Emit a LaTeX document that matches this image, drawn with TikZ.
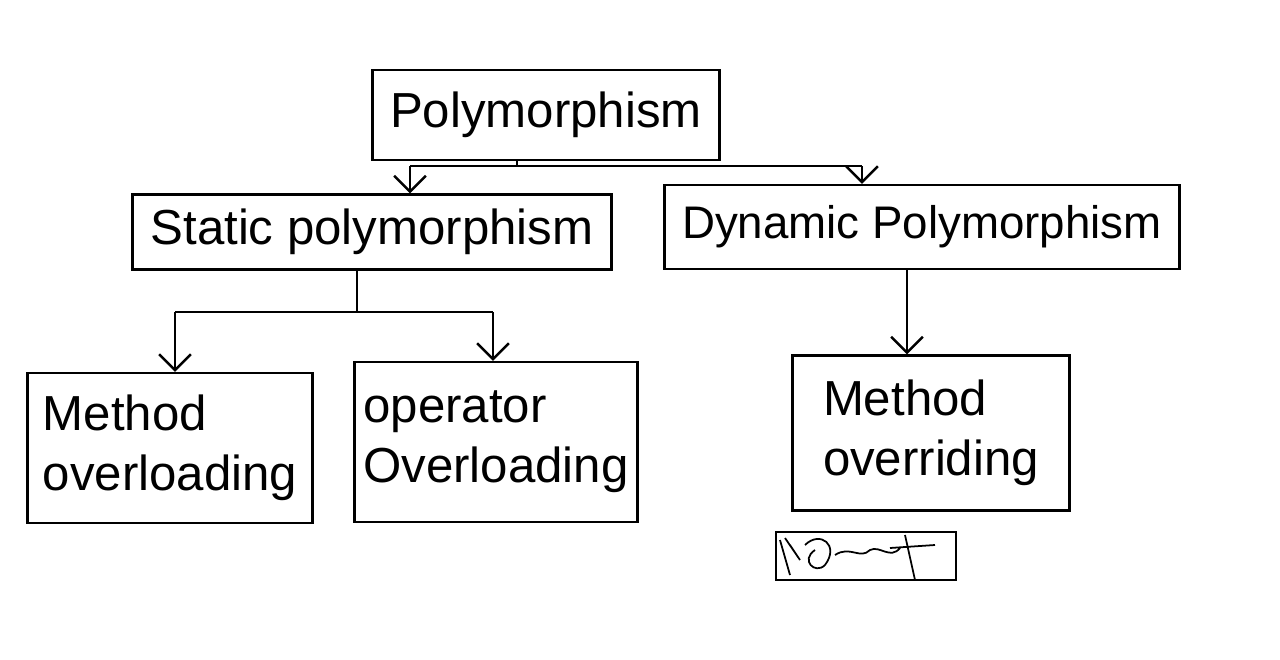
\documentclass[tikz,border=0pt]{standalone}
\usepackage{fontspec}
\setmainfont{Liberation Sans}
\usetikzlibrary{arrows.meta}
\begin{document}
\begin{tikzpicture}[x=0.02cm,y=-0.02cm,
  box/.style={draw=black,line width=1.4pt,inner sep=0pt,align=left,font=\fontsize{28}{34}\selectfont},
  conn/.style={draw=black,line width=1.4pt},
  arr/.style={conn,-{Straight Barb[length=9pt,width=18pt,line width=1.4pt]}}]
\fill[white] (0,0) rectangle (1280,659);
\useasboundingbox (0,0) rectangle (1280,659);
\node[box,minimum width=347*0.02cm,minimum height=90*0.02cm] (poly) at (546,115) {Polymorphism};
\node[box,minimum width=479*0.02cm,minimum height=75*0.02cm] (static) at (372,232) {Static polymorphism};
\node[box,font=\fontsize{26}{32}\selectfont,minimum width=515*0.02cm,minimum height=84*0.02cm] (dyn) at (922,227) {Dynamic Polymorphism};
\node[box,minimum width=285*0.02cm,minimum height=150*0.02cm] (mol) at (170,448) {Method\\overloading};
\node[box,minimum width=283*0.02cm,minimum height=160*0.02cm] (ool) at (496,442) {operator\\Overloading};
\node[box,minimum width=277*0.02cm,minimum height=155*0.02cm] (mor) at (931,433) {Method\\overriding};
% connectors
\coordinate (pj) at (517,166);
\coordinate (pl) at (410,166);
\coordinate (pr) at (862,166);
\draw[conn] (poly.south -| pj) -- (pj);
\draw[conn] (pl) -- (pr);
\draw[arr] (pl) -- (pl |- static.north);
\draw[arr] (pr) -- (pr |- dyn.north);
\coordinate (sj) at (357,312);
\coordinate (sl) at (175,312);
\coordinate (sr) at (493,312);
\draw[conn] (static.south -| sj) -- (sj);
\draw[conn] (sl) -- (sr);
\draw[arr] (sl) -- (sl |- mol.north);
\draw[arr] (sr) -- (sr |- ool.north);
\draw[arr] (dyn.south -| 907,0) -- (907,0 |- mor.north);
% signature
\node[draw=black,line width=1pt,minimum width=180*0.02cm,minimum height=48*0.02cm] (sig) at (866,556) {};
\draw[line width=1pt] (780,540) -- (790,575) (785,538) -- (800,560) -- (790,545)
  (805,545) .. controls (820,530) and (840,545) .. (825,565) .. controls (815,575) and (800,560) .. (815,550)
  (835,555) .. controls (850,545) and (860,560) .. (870,550) .. controls (880,545) and (890,560) .. (900,548)
  (905,535) -- (915,580) (890,548) -- (935,545);
\end{tikzpicture}
\end{document}
